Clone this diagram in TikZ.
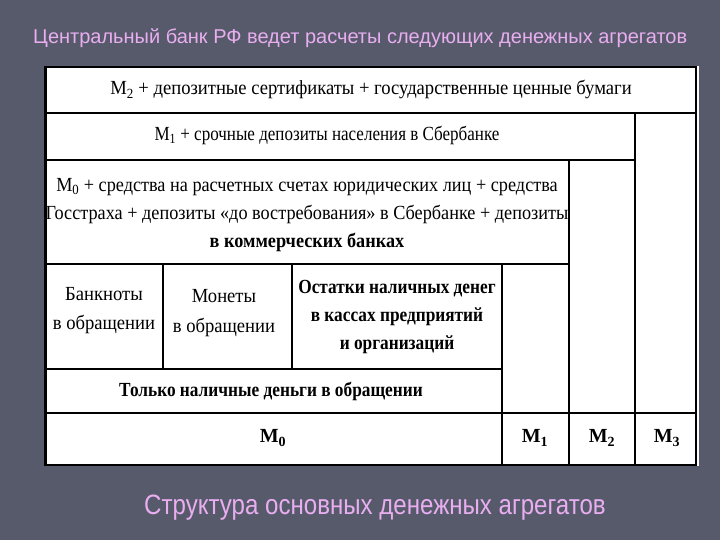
\documentclass[tikz,border=0pt]{standalone}
\usepackage{fontspec}
\setmainfont{Liberation Serif}
\newfontfamily\slidefont{Liberation Sans}
\definecolor{bg}{HTML}{575A6B}
\definecolor{pinktext}{HTML}{E8AEF0}
\tikzset{
  grid/.style={line width=2.4pt, black},
  cell/.style={font=\fontsize{20}{28}\selectfont, align=center, inner sep=0pt, xscale=0.93, transform shape},
  mlabel/.style={font=\fontsize{20}{22}\selectfont\bfseries, inner sep=0pt},
}
\begin{document}
\begin{tikzpicture}[x=1pt,y=-1pt]
\useasboundingbox (0,0) rectangle (720,540);
\fill[bg] (0,0) rectangle (720,540);
% title and caption
\node[anchor=west, text=pinktext, font=\slidefont\fontsize{20}{22}\selectfont, inner sep=0pt] (title) at (33,38) {Центральный банк РФ ведет расчеты следующих денежных агрегатов};
\node[text=pinktext, font=\slidefont\fontsize{28}{32}\selectfont, inner sep=0pt, xscale=0.86, transform shape] (caption) at (375,508) {Структура основных денежных агрегатов};
% table background
\fill[white] (44,66) rectangle (699,466);
% grid
\draw[grid] (45.5,67) rectangle (696,465);
\draw[grid] (45.5,113) -- (696,113);
\draw[grid] (635,113) -- (635,465);
\draw[grid] (45.5,160) -- (635,160);
\draw[grid] (569,160) -- (569,465);
\draw[grid] (45.5,264) -- (569,264);
\draw[grid] (502,264) -- (502,465);
\draw[grid] (163,264) -- (163,369);
\draw[grid] (292,264) -- (292,369);
\draw[grid] (45.5,369) -- (502,369);
\draw[grid] (45.5,413) -- (696,413);
% cell texts
\node[cell] (m2row) at (371,90) {M\textsubscript{2} + депозитные сертификаты + государственные ценные бумаги};
\node[cell, xscale=0.915] (m1row) at (327,135) {M\textsubscript{1} + срочные депозиты населения в Сбербанке};
\node[cell, xscale=0.98] (m0row) at (307,215) {M\textsubscript{0} + средства на расчетных счетах юридических лиц + средства\\Госстраха + депозиты «до востребования» в Сбербанке + депозиты\\\bfseries в коммерческих банках};
\node[cell, font=\fontsize{20}{29}\selectfont] (notes) at (104,311) {Банкноты\\в обращении};
\node[cell, font=\fontsize{20}{30}\selectfont] (coins) at (224,313) {Монеты\\в обращении};
\node[cell, xscale=0.93, font=\fontsize{20}{28}\selectfont\bfseries] (cash) at (397,317) {Остатки наличных денег\\в кассах предприятий\\и организаций};
\node[cell, xscale=0.93, font=\fontsize{20}{28}\selectfont\bfseries] (only) at (271,391) {Только наличные деньги в обращении};
\node[mlabel] (M0) at (273,438) {M\textsubscript{0}};
\node[mlabel] (M1) at (535,438) {M\textsubscript{1}};
\node[mlabel] (M2) at (602,438) {M\textsubscript{2}};
\node[mlabel] (M3) at (667,438) {M\textsubscript{3}};
\end{tikzpicture}
\end{document}
